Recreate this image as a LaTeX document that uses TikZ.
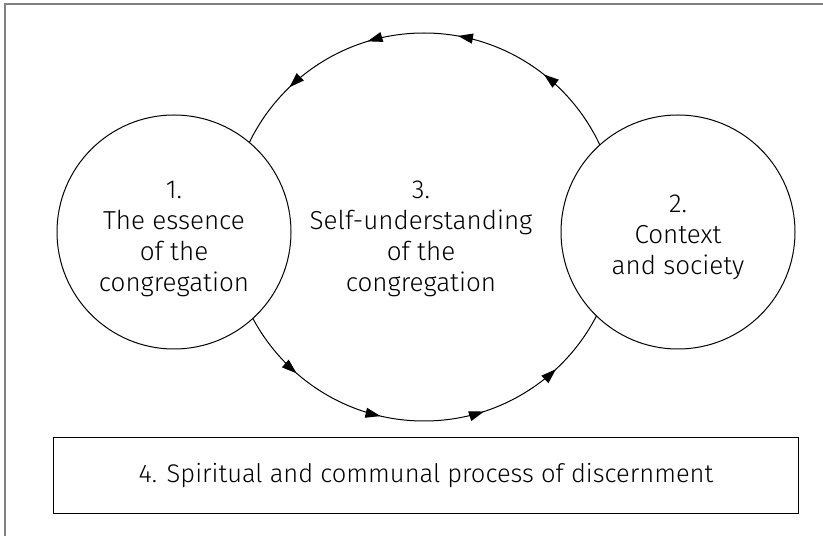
\documentclass[tikz,border=0pt]{standalone}
\usepackage{fontspec}
\setmainfont{Fira Sans Light}
\usetikzlibrary{arrows.meta,decorations.markings}

\begin{document}
\begin{tikzpicture}[x=1pt,y=1pt,>={Triangle[length=15pt,width=10pt]},
    txt/.style={align=center,font=\fontsize{26}{31}\selectfont},
    stage/.style={txt,circle,draw,fill=white,line width=1pt,minimum size=234pt,inner sep=0pt},
    flow/.style={line width=1pt,postaction={decorate},decoration={markings,
        mark=at position 0.144 with {\arrow{>}},
        mark=at position 0.222 with {\arrow{>}},
        mark=at position 0.297 with {\arrow{>}},
        mark=at position 0.372 with {\arrow{>}},
        mark=at position 0.636 with {\arrow{>}},
        mark=at position 0.714 with {\arrow{>}},
        mark=at position 0.800 with {\arrow{>}},
        mark=at position 0.869 with {\arrow{>}}}}]
    \useasboundingbox (0,0) rectangle (823,536);

    % frame
    \draw[gray,line width=1.5pt] (5,0) -- (5,532) -- (823,532);

    % cycle round the self-understanding
    \coordinate (O) at (424,309);
    \draw[flow] (O) circle[radius=194pt];

    \node[stage,text height=124pt] (essence) at (174,304) {1.\\The essence\\of the\\congregation};
    \node[stage,text height=90pt] (context) at (678,304) {2.\\Context\\and society};
    \node[txt] (self) at (421,297) {3.\\Self-understanding\\of the\\congregation};

    \node[txt,font=\fontsize{25.5}{31}\selectfont,draw,line width=1pt,minimum width=745pt,minimum height=76pt] (discern) at (426,60)
        {4. Spiritual and communal process of discernment};
\end{tikzpicture}
\end{document}
